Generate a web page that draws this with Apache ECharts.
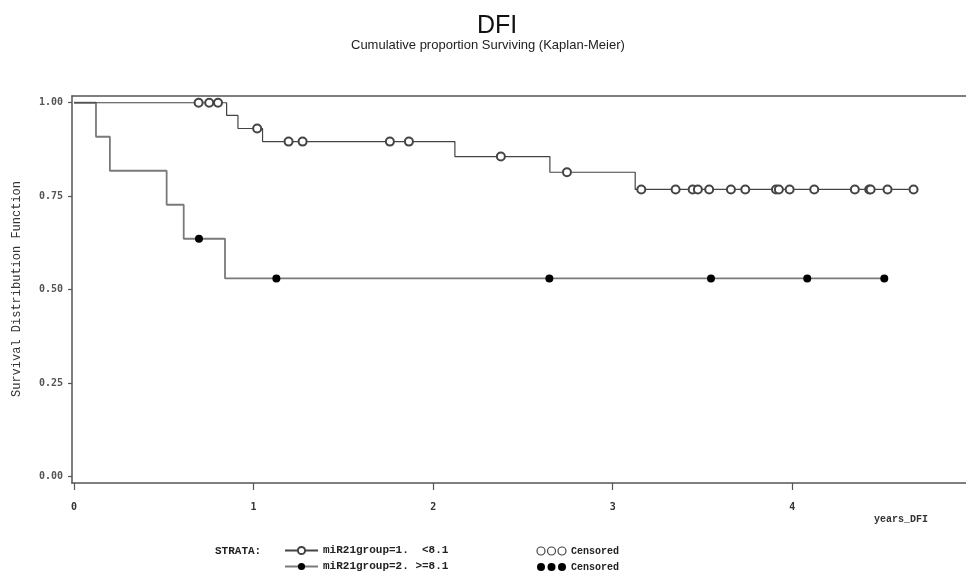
<!DOCTYPE html>
<html><head><meta charset="utf-8">
<script src="https://cdn.jsdelivr.net/npm/echarts@6/dist/echarts.min.js"></script>
<style>html,body{margin:0;padding:0;background:#fff}#c{width:966px;height:581px}</style>
</head><body><div id="c"></div>
<script>
// ---- data ----
const xTicks = [0, 1, 2, 3, 4];
const yTicks = [0, 0.25, 0.5, 0.75, 1];
const seriesNames = ['miR21group=1.  <8.1', 'miR21group=2. >=8.1'];

// group 1 (<8.1): event times and survival after each event
const g1EventTimes = [0, 0.85, 0.913, 1.05, 2.121, 2.65, 3.125];
const g1EventSurv  = [1.0, 0.966, 0.931, 0.896, 0.856, 0.814, 0.768];
const g1CensorTimes = [0.694, 0.753, 0.802, 1.02, 1.195, 1.273, 1.759, 1.865, 2.377, 2.745,
  3.159, 3.35, 3.445, 3.474, 3.537, 3.658, 3.738, 3.909, 3.925, 3.985, 4.122, 4.348,
  4.428, 4.436, 4.53, 4.675];

// group 2 (>=8.1)
const g2EventTimes = [0, 0.1225, 0.2, 0.516, 0.611, 0.841];
const g2EventSurv  = [1.0, 0.909, 0.818, 0.727, 0.636, 0.530];
const g2CensorTimes = [0.696, 1.127, 2.647, 3.547, 4.083, 4.512];

// ---- build KM step data (censored points sit on the curve) ----
function survAt(times, surv, t) {
  let s = surv[0];
  for (let i = 0; i < times.length; i++) if (times[i] <= t) s = surv[i];
  return s;
}
function buildData(et, es, ct) {
  const pts = [];
  et.forEach((t, i) => pts.push({ t: t, s: es[i], c: false }));
  ct.forEach(t => pts.push({ t: t, s: survAt(et, es, t), c: true }));
  pts.sort((a, b) => a.t - b.t || (a.c - b.c));
  return pts.map(p => p.c ? { value: [p.t, p.s] } : { value: [p.t, p.s], symbol: 'none' });
}

const chart = echarts.init(document.getElementById('c'), null, { renderer: 'canvas' });
const mono = 'Liberation Mono';
const axisCol = '#555';
const legendText = { fontFamily: mono, fontSize: 11, fontWeight: 'bold', color: '#222' };

chart.setOption({
  animation: false,
  backgroundColor: '#fff',
  title: [
    { text: 'DFI', left: 472, top: 9,
      textStyle: { fontFamily: 'Liberation Sans', fontSize: 25, fontWeight: 'normal', color: '#111' } },
    { text: 'Cumulative proportion Surviving (Kaplan-Meier)', left: 346, top: 34,
      textStyle: { fontFamily: 'Liberation Sans', fontSize: 13, fontWeight: 'normal', color: '#222' } }
  ],
  grid: { left: 72, right: 0, top: 96, bottom: 98, containLabel: false },
  legend: [{
    left: 284, top: 545, padding: 0, itemWidth: 33, itemHeight: 9,
    data: [seriesNames[0]], textStyle: legendText
  }, {
    left: 284, top: 561, padding: 0, itemWidth: 33, itemHeight: 9,
    data: [seriesNames[1]], textStyle: legendText
  }],
  xAxis: [{
    type: 'value', position: 'bottom', min: -0.011, max: 4.967,
    axisLine: { show: true, onZero: false, lineStyle: { color: axisCol, width: 1.5 } },
    axisTick: { show: true, length: 7, customValues: xTicks, lineStyle: { color: axisCol, width: 1.2 } },
    axisLabel: { show: true, customValues: xTicks, margin: 19, fontFamily: 'DejaVu Sans Mono',
      fontSize: 10, fontWeight: 'bold', color: '#333', formatter: v => String(v) },
    splitLine: { show: false }
  }, {
    type: 'value', position: 'top', min: -0.011, max: 4.967,
    axisLine: { show: true, onZero: false, lineStyle: { color: axisCol, width: 1.5 } },
    axisTick: { show: false }, axisLabel: { show: false }, splitLine: { show: false }
  }],
  yAxis: {
    type: 'value', min: -0.0175, max: 1.018,
    axisLine: { show: true, onZero: false, lineStyle: { color: axisCol, width: 1.5 } },
    axisTick: { show: true, length: 4, customValues: yTicks, lineStyle: { color: axisCol, width: 1.2 } },
    axisLabel: { show: true, customValues: yTicks, margin: 9, fontFamily: 'DejaVu Sans Mono',
      fontSize: 10, fontWeight: 'bold', color: '#555', formatter: v => v.toFixed(2) },
    splitLine: { show: false }
  },
  series: [{
    name: seriesNames[0], type: 'line', step: 'end', xAxisIndex: 0, yAxisIndex: 0,
    showAllSymbol: true, symbol: 'emptyCircle', symbolSize: 8,
    itemStyle: { color: '#444', borderWidth: 1.2 },
    lineStyle: { color: '#444', width: 1.2 },
    data: buildData(g1EventTimes, g1EventSurv, g1CensorTimes), z: 3
  }, {
    name: seriesNames[1], type: 'line', step: 'end', xAxisIndex: 0, yAxisIndex: 0,
    showAllSymbol: true, symbol: 'circle', symbolSize: 8,
    itemStyle: { color: '#000' },
    lineStyle: { color: '#7a7a7a', width: 1.8 },
    data: buildData(g2EventTimes, g2EventSurv, g2CensorTimes), z: 2
  }],
  graphic: [
    { type: 'text', x: 17, y: 289, rotation: Math.PI / 2,
      style: { text: 'Survival Distribution Function', font: '12px "Liberation Mono"', fill: '#333',
        textAlign: 'center', textVerticalAlign: 'middle' } },
    { type: 'text', x: 874, y: 519,
      style: { text: 'years_DFI', font: 'bold 10px "Liberation Mono"', fill: '#333',
        textAlign: 'left', textVerticalAlign: 'middle' } },
    { type: 'text', x: 215, y: 551,
      style: { text: 'STRATA:', font: 'bold 11px "Liberation Mono"', fill: '#222',
        textAlign: 'left', textVerticalAlign: 'middle' } },
    { type: 'circle', shape: { cx: 541, cy: 551, r: 4 }, style: { fill: '#fff', stroke: '#444', lineWidth: 1.2 } },
    { type: 'circle', shape: { cx: 551.5, cy: 551, r: 4 }, style: { fill: '#fff', stroke: '#444', lineWidth: 1.2 } },
    { type: 'circle', shape: { cx: 562, cy: 551, r: 4 }, style: { fill: '#fff', stroke: '#444', lineWidth: 1.2 } },
    { type: 'circle', shape: { cx: 541, cy: 567, r: 4 }, style: { fill: '#000' } },
    { type: 'circle', shape: { cx: 551.5, cy: 567, r: 4 }, style: { fill: '#000' } },
    { type: 'circle', shape: { cx: 562, cy: 567, r: 4 }, style: { fill: '#000' } },
    { type: 'text', x: 571, y: 551,
      style: { text: 'Censored', font: 'bold 10px "Liberation Mono"', fill: '#222',
        textAlign: 'left', textVerticalAlign: 'middle' } },
    { type: 'text', x: 571, y: 567,
      style: { text: 'Censored', font: 'bold 10px "Liberation Mono"', fill: '#222',
        textAlign: 'left', textVerticalAlign: 'middle' } }
  ]
});
</script>
</body></html>
